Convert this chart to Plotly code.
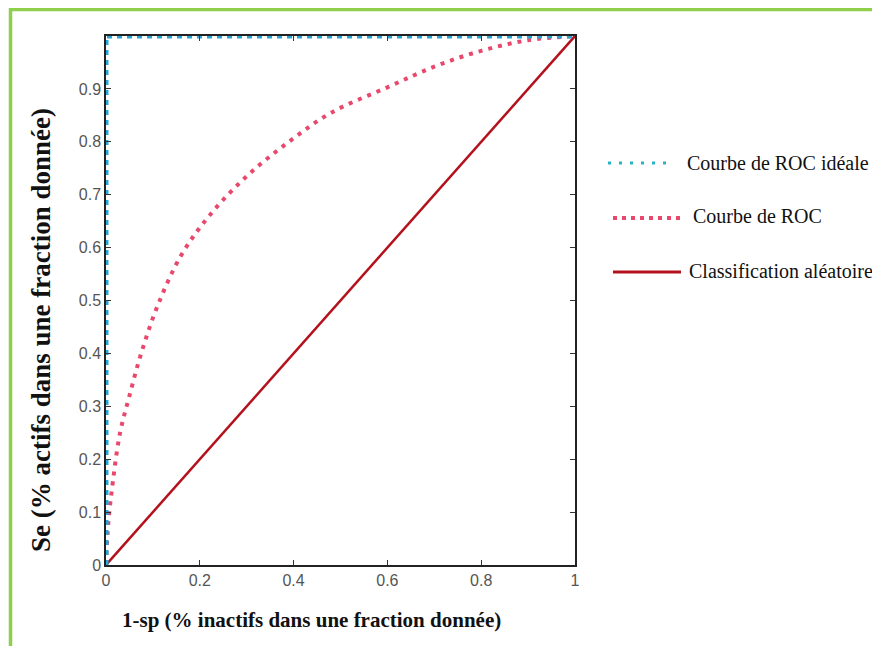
import plotly.graph_objects as go

# ---- data ----
ideal_x = [0, 0, 1]
ideal_y = [0, 1, 1]
roc_x = [0, 0.005, 0.015, 0.03, 0.05, 0.075, 0.11, 0.16, 0.22, 0.30, 0.39, 0.48, 0.60, 0.70, 0.80, 0.90, 1.0]
roc_y = [0, 0.08, 0.16, 0.25, 0.32, 0.40, 0.49, 0.585, 0.66, 0.735, 0.80, 0.855, 0.903, 0.942, 0.972, 0.992, 1.0]
rand_x = [0, 1]
rand_y = [0, 1]
x_ticks = [0, 0.2, 0.4, 0.6, 0.8, 1]
x_tick_labels = ["0", "0.2", "0.4", "0.6", "0.8", "1"]
y_ticks = [0, 0.1, 0.2, 0.3, 0.4, 0.5, 0.6, 0.7, 0.8, 0.9]
y_tick_labels = ["0", "0.1", "0.2", "0.3", "0.4", "0.5", "0.6", "0.7", "0.8", "0.9"]
names = ["Courbe de ROC idéale", "Courbe de ROC", "Classification aléatoire"]

C_IDEAL = "#22a8d6"
C_ROC = "#e8486c"
C_RAND = "#b3111c"
GREEN = "#8fcf4c"

OFF = 8  # page body margin
W, H = 880 - OFF, 646 - OFF
L, R, T, B = 106 - OFF, 575 - OFF, 36 - OFF, 565 - OFF


def px(x):
    return (x - OFF - L) / (R - L)


def py(y):
    return (B - (y - OFF)) / (B - T)


fig = go.Figure()
fig.add_trace(go.Scatter(x=rand_x, y=rand_y, mode="lines", name=names[2],
                         line=dict(color=C_RAND, width=2.5), cliponaxis=False, showlegend=False))
fig.add_trace(go.Scatter(x=roc_x, y=roc_y, mode="lines", name=names[1],
                         line=dict(color=C_ROC, width=4, dash="4px,6px", shape="spline", smoothing=1.0),
                         cliponaxis=False, showlegend=False))
fig.add_trace(go.Scatter(x=ideal_x, y=ideal_y, mode="lines", name=names[0],
                         line=dict(color=C_IDEAL, width=5, dash="5px,5px"),
                         cliponaxis=False, showlegend=False))

shapes = [
    # green frame
    dict(type="line", xref="paper", yref="paper", x0=px(10.5), x1=px(10.5), y0=py(8), y1=py(646),
         line=dict(color=GREEN, width=3.5), layer="above"),
    dict(type="line", xref="paper", yref="paper", x0=px(9), x1=px(880), y0=py(9.5), y1=py(9.5),
         line=dict(color=GREEN, width=3.5), layer="above"),
    # legend samples
    dict(type="line", xref="paper", yref="paper", x0=px(608), x1=px(672), y0=py(163), y1=py(163),
         line=dict(color="#2ab3c4", width=3, dash="3px,8px")),
    dict(type="line", xref="paper", yref="paper", x0=px(613), x1=px(684), y0=py(218), y1=py(218),
         line=dict(color=C_ROC, width=4, dash="4px,5px")),
    dict(type="line", xref="paper", yref="paper", x0=px(613), x1=px(681), y0=py(272), y1=py(272),
         line=dict(color=C_RAND, width=3)),
]

serif = "Liberation Serif, Times New Roman, serif"
annotations = [
    dict(text=names[0], xref="paper", yref="paper", x=px(685), y=py(163), xanchor="left", yanchor="middle",
         showarrow=False, font=dict(family=serif, size=20, color="#111")),
    dict(text=names[1], xref="paper", yref="paper", x=px(691), y=py(216), xanchor="left", yanchor="middle",
         showarrow=False, font=dict(family=serif, size=20, color="#111")),
    dict(text=names[2], xref="paper", yref="paper", x=px(687), y=py(271), xanchor="left", yanchor="middle",
         showarrow=False, font=dict(family=serif, size=20, color="#111")),
    dict(text="<b>1-sp (% inactifs dans une fraction donnée)</b>", xref="paper", yref="paper",
         x=px(120), y=py(620), xanchor="left", yanchor="middle", showarrow=False,
         font=dict(family=serif, size=21, color="#111")),
    dict(text="<b>Se (% actifs dans une fraction donnée)</b>", xref="paper", yref="paper",
         x=px(41), y=py(330), xanchor="center", yanchor="middle", textangle=-90, showarrow=False,
         font=dict(family=serif, size=27, color="#111")),
]

tickfont = dict(family="Liberation Sans, Arial, sans-serif", size=16, color="#555")
fig.update_layout(
    width=W, height=H,
    margin=dict(l=L, r=W - R, t=T, b=H - B),
    paper_bgcolor="white", plot_bgcolor="white",
    showlegend=False,
    shapes=shapes, annotations=annotations,
    xaxis=dict(range=[0, 1], tickvals=x_ticks, ticktext=x_tick_labels, ticks="inside", ticklen=5,
               tickcolor="#333", showgrid=False, zeroline=False, showline=True, linecolor="#222",
               linewidth=1.5, mirror="ticks", tickfont=tickfont),
    yaxis=dict(range=[0, 1], tickvals=y_ticks, ticktext=y_tick_labels, ticks="inside", ticklen=5,
               tickcolor="#333", showgrid=False, zeroline=False, showline=True, linecolor="#222",
               linewidth=1.5, mirror="ticks", tickfont=tickfont),
)

fig.write_html("out.html")
